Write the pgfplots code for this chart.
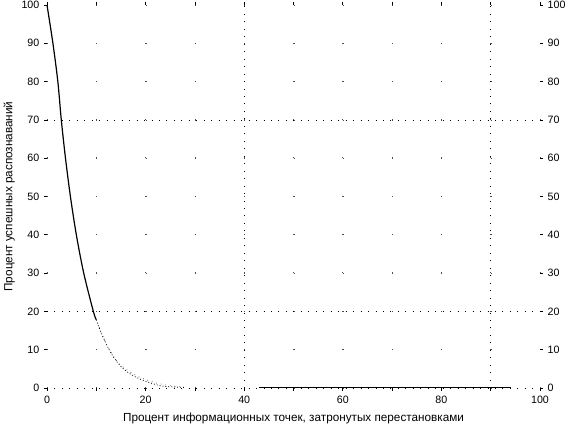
\documentclass[border=0pt]{standalone}
\usepackage{fontspec}
\setmainfont{Liberation Sans}
\usepackage{pgfplots}
\pgfplotsset{compat=1.18}

\begin{document}
\begin{tikzpicture}
\path[use as bounding box] (-35.25pt,-31.5pt) rectangle (390pt,291pt);

\begin{axis}[
  name=main,
  at={(0,0)}, anchor=south west,
  scale only axis,
  width=369.75pt, height=287.25pt,
  xmin=0, xmax=100, ymin=0, ymax=100,
  xtick={0,10,...,100},
  xticklabels={0,,20,,40,,60,,80,,100},
  ytick={0,10,...,100},
  tick align=outside,
  major tick length=2.2pt,
  tick style={black, line width=0.5pt},
  ytick pos=both, xtick pos=both,
  axis line style={draw=none},
  ticklabel style={font=\fontsize{8}{9}\selectfont},
  /pgf/number format/assume math mode=true,
  xlabel={Процент информационных точек, затронутых перестановками},
  ylabel={Процент успешных распознаваний},
  label style={font=\fontsize{8.8}{10}\selectfont},
  xlabel style={yshift=2pt},
  ylabel style={yshift=-4pt},
  xmajorgrids, ymajorgrids,
  x grid style={black!70, line width=0.6pt, dash pattern=on 0.6pt off 28.125pt},
  y grid style={black!70, line width=0.6pt, dash pattern=on 0.6pt off 36.375pt},
  extra x ticks={40,90},
  extra x tick labels={},
  extra y ticks={0,20,70},
  extra y tick labels={},
  extra x tick style={major tick length=0pt,
    x grid style={black, line width=0.6pt, dash pattern=on 0.6pt off 5pt}},
  extra y tick style={major tick length=0pt,
    y grid style={black, line width=0.6pt, dash pattern=on 0.6pt off 5pt}},
  clip=false,
]
% main decay curve (solid part)
\addplot[black, line width=0.9pt, smooth, tension=0.5] coordinates {
  (0,100) (1.2,90) (2.2,80) (2.9,70)
  (3.75,60) (4.75,50) (5.95,40)
  (7.45,30) (9.4,20) (10.0,17.8)
};
% tail (sparse, dotted)
\addplot[black, line width=0.6pt, smooth, dash pattern=on 0.6pt off 1.6pt] coordinates {
  (10.0,17.8) (10.8,15) (12.4,10.5) (13.8,7.5) (15.5,5)
  (17.5,3.2) (19.5,2) (21.5,1.1) (23.5,0.5) (26,0.25) (28,0.15)
};
\addplot[black!80, line width=0.5pt, smooth, dash pattern=on 0.5pt off 3pt] coordinates {
  (10.3,17) (11.4,13) (12.9,9.5) (14.5,6.5) (16.5,4.5)
  (18.5,3) (20.5,2) (22.5,1.2) (25,0.6) (27,0.3)
};
% flat part at zero
\addplot[black, line width=0.6pt] coordinates {
  (43,0.25) (94.2,0.25)
};
\end{axis}

\begin{axis}[
  at={(0,0)}, anchor=south west,
  scale only axis,
  width=369.75pt, height=287.25pt,
  xmin=0, xmax=100, ymin=0, ymax=100,
  axis x line=none,
  axis y line*=right,
  axis line style={draw=none},
  ytick={0,10,...,100},
  yticklabel pos=right,
  tick align=outside,
  major tick length=2.2pt,
  tick style={black, line width=0.5pt},
  ticklabel style={font=\fontsize{8}{9}\selectfont},
  /pgf/number format/assume math mode=true,
]
\end{axis}
\end{tikzpicture}
\end{document}
